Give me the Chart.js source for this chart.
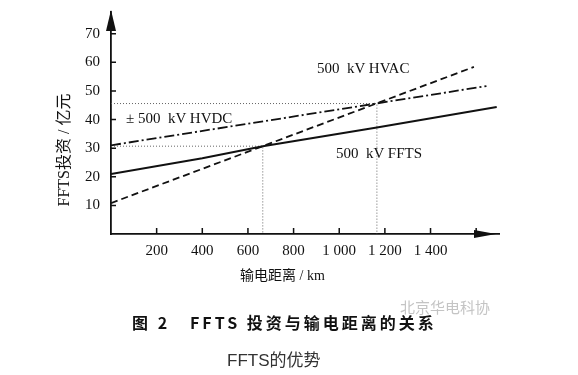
<!DOCTYPE html>
<html>
<head>
<meta charset="utf-8">
<script src="https://cdn.jsdelivr.net/npm/chart.js@4/dist/chart.umd.min.js"></script>
<style>
  html, body { margin: 0; padding: 0; background: #fff; }
  #wrap { position: relative; width: 578px; height: 375px; overflow: hidden; }
  #c { position: absolute; left: 0; top: 0; }
  .t { position: absolute; white-space: pre; line-height: 18px; color: #111; }
  .serif { font-family: "Liberation Serif", "Noto Sans CJK SC", serif; font-size: 15px; }
</style>
</head>
<body>
<div id="wrap">
  <canvas id="c" width="578" height="375"></canvas>
  <div class="t serif" style="left:317px; top:59px;">500  kV HVAC</div>
  <div class="t serif" style="left:126px; top:109px;">± 500  kV HVDC</div>
  <div class="t serif" style="left:336px; top:144px;">500  kV FFTS</div>
  <div class="t serif" style="left:240px; top:267px; font-size:14px;">输电距离 / km</div>
  <div class="t serif" style="left:55px; top:150px; transform-origin:0 0; transform:rotate(-90deg) translate(-62px, 0); width:124px; text-align:center; font-size:16px;">FFTS投资 / 亿元</div>
  <div class="t" style="left:132px; top:313px; font-family:'Noto Sans CJK SC', sans-serif; font-weight:bold; font-size:16px; letter-spacing:3px;">图 2   FFTS 投资与输电距离的关系</div>
  <div class="t" style="left:400px; top:298px; font-family:'Noto Sans CJK SC', sans-serif; font-size:15px; color:#c4c4c4;">北京华电科协</div>
  <div class="t" style="left:227px; top:352px; font-family:'Liberation Sans', 'Noto Sans CJK SC', sans-serif; font-size:17px; color:#333;">FFTS的优势</div>
</div>
<script>
// ---- data ----
const fftsKm   = [0, 400, 665, 1165, 1690];
const fftsCost = [21, 26.5, 30.7, 37.2, 44.4];
const hvacKm   = [0, 1590];
const hvacCost = [10.8, 58.4];
const hvdcKm   = [0, 1645];
const hvdcCost = [31, 51.7];
const refHighKm   = [0, 1165, 1165];
const refHighCost = [45.6, 45.6, 0];
const refLowKm    = [0, 665, 665];
const refLowCost  = [30.7, 30.7, 0];
const xTickValues = [200, 400, 600, 800, 1000, 1200, 1400, 1600];
const xTickLabels = ['200', '400', '600', '800', '1 000', '1 200', '1 400', ''];
const yTickValues = [10, 20, 30, 40, 50, 60, 70];

const pts = (xs, ys) => xs.map((x, i) => ({ x: x, y: ys[i] }));

const axisDecor = {
  id: 'axisDecor',
  afterDraw(chart) {
    const ctx = chart.ctx;
    const xs = chart.scales.x, ys = chart.scales.y;
    const a = chart.chartArea;
    ctx.save();
    ctx.strokeStyle = '#111';
    ctx.fillStyle = '#111';
    ctx.lineWidth = 1.5;
    ctx.beginPath();
    yTickValues.forEach(v => {
      const py = ys.getPixelForValue(v);
      ctx.moveTo(a.left, py); ctx.lineTo(a.left + 5, py);
    });
    xTickValues.forEach(v => {
      const px = xs.getPixelForValue(v);
      ctx.moveTo(px, a.bottom); ctx.lineTo(px, a.bottom - 6);
    });
    ctx.stroke();
    // arrow heads
    ctx.beginPath();
    ctx.moveTo(a.left, a.top - 2);
    ctx.lineTo(a.left - 5, a.top + 19);
    ctx.lineTo(a.left + 5, a.top + 19);
    ctx.closePath();
    ctx.fill();
    ctx.beginPath();
    ctx.moveTo(a.right - 3, a.bottom);
    ctx.lineTo(a.right - 25, a.bottom - 4);
    ctx.lineTo(a.right - 25, a.bottom + 4);
    ctx.closePath();
    ctx.fill();
    ctx.restore();
  }
};

new Chart(document.getElementById('c'), {
  type: 'scatter',
  data: {
    datasets: [
      { label: '500 kV FFTS', data: pts(fftsKm, fftsCost), showLine: true, borderColor: '#111', borderWidth: 2, pointRadius: 0 },
      { label: '500 kV HVAC', data: pts(hvacKm, hvacCost), showLine: true, borderColor: '#111', borderWidth: 1.8, borderDash: [7, 4], pointRadius: 0 },
      { label: '±500 kV HVDC', data: pts(hvdcKm, hvdcCost), showLine: true, borderColor: '#111', borderWidth: 1.8, borderDash: [10, 3, 2, 3], pointRadius: 0 },
      { label: 'ref1', data: pts(refHighKm, refHighCost), showLine: true, borderColor: '#666', borderWidth: 1, borderDash: [1, 2], pointRadius: 0 },
      { label: 'ref2', data: pts(refLowKm, refLowCost), showLine: true, borderColor: '#666', borderWidth: 1, borderDash: [1, 2], pointRadius: 0 }
    ]
  },
  options: {
    responsive: false,
    animation: false,
    layout: { padding: { left: 0, top: 12, right: 79, bottom: 111 } },
    plugins: { legend: { display: false }, tooltip: { enabled: false } },
    scales: {
      x: {
        type: 'linear', min: 0, max: 1700,
        afterFit(s) { s.height = 30; s.paddingLeft = 0; s.paddingRight = 0; },
        afterBuildTicks(s) { s.ticks = xTickValues.map(v => ({ value: v })); },
        grid: { display: false, drawTicks: false },
        border: { display: true, color: '#111', width: 1.8 },
        ticks: {
          padding: 8, maxRotation: 0, autoSkip: false, color: '#111',
          font: { family: 'Liberation Serif', size: 15 },
          callback: (v) => { const i = xTickValues.indexOf(v); return i >= 0 ? xTickLabels[i] : ''; }
        }
      },
      y: {
        type: 'linear', min: 0, max: 77.6,
        afterFit(s) { s.width = 111; s.paddingTop = 0; s.paddingBottom = 0; },
        afterBuildTicks(s) { s.ticks = yTickValues.map(v => ({ value: v })); },
        grid: { display: false, drawTicks: false },
        border: { display: true, color: '#111', width: 1.8 },
        ticks: {
          padding: 11, autoSkip: false, color: '#111',
          font: { family: 'Liberation Serif', size: 15 }
        }
      }
    }
  },
  plugins: [axisDecor]
});
</script>
</body>
</html>
